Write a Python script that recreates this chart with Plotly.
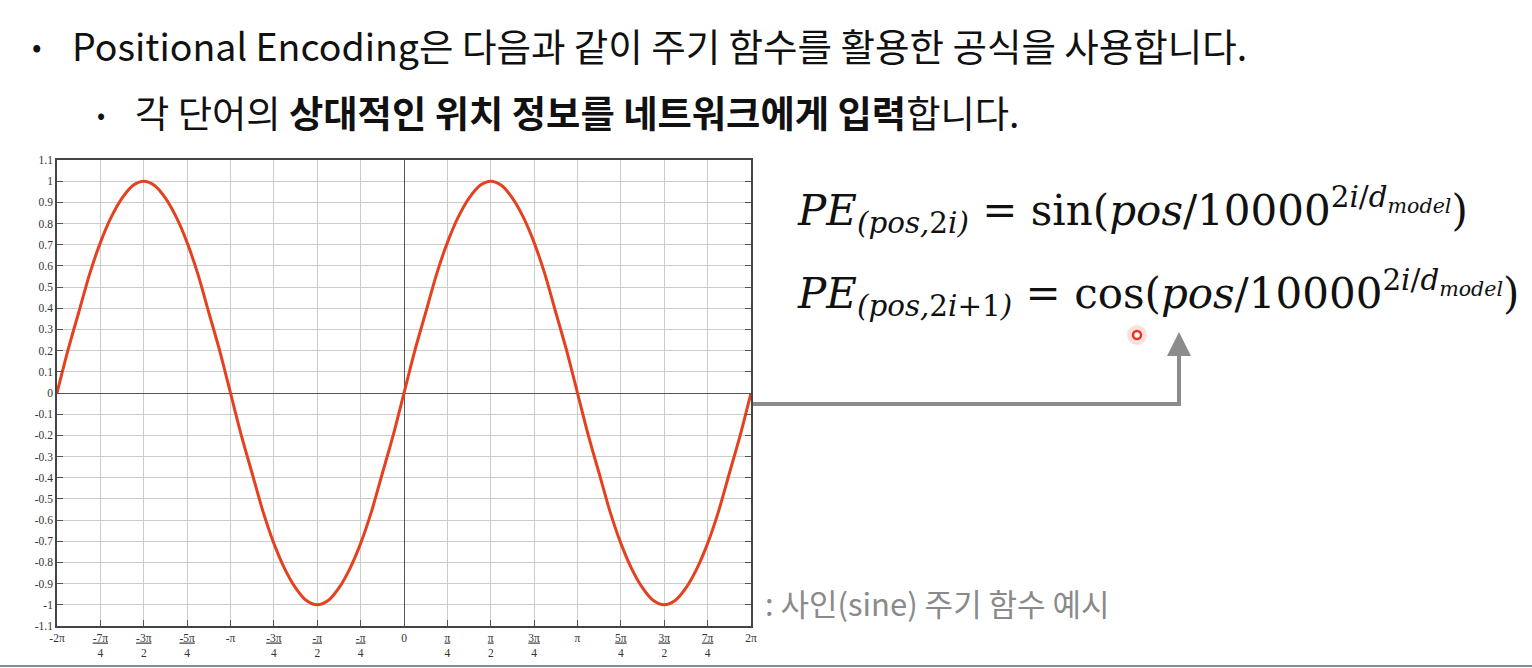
import plotly.graph_objects as go

# ---- data ----
# x positions in units of pi (step pi/16), y values of the plotted sine curve
x_pi = [-2.0, -1.9375, -1.875, -1.8125, -1.75, -1.6875, -1.625, -1.5625,
        -1.5, -1.4375, -1.375, -1.3125, -1.25, -1.1875, -1.125, -1.0625,
        -1.0, -0.9375, -0.875, -0.8125, -0.75, -0.6875, -0.625, -0.5625,
        -0.5, -0.4375, -0.375, -0.3125, -0.25, -0.1875, -0.125, -0.0625,
        0.0, 0.0625, 0.125, 0.1875, 0.25, 0.3125, 0.375, 0.4375,
        0.5, 0.5625, 0.625, 0.6875, 0.75, 0.8125, 0.875, 0.9375,
        1.0, 1.0625, 1.125, 1.1875, 1.25, 1.3125, 1.375, 1.4375,
        1.5, 1.5625, 1.625, 1.6875, 1.75, 1.8125, 1.875, 1.9375, 2.0]
y_vals = [0.0, 0.2, 0.38, 0.56, 0.71, 0.83, 0.92, 0.98,
          1.0, 0.98, 0.92, 0.83, 0.71, 0.56, 0.38, 0.2,
          0.0, -0.2, -0.38, -0.56, -0.71, -0.83, -0.92, -0.98,
          -1.0, -0.98, -0.92, -0.83, -0.71, -0.56, -0.38, -0.2,
          0.0, 0.2, 0.38, 0.56, 0.71, 0.83, 0.92, 0.98,
          1.0, 0.98, 0.92, 0.83, 0.71, 0.56, 0.38, 0.2,
          0.0, -0.2, -0.38, -0.56, -0.71, -0.83, -0.92, -0.98,
          -1.0, -0.98, -0.92, -0.83, -0.71, -0.56, -0.38, -0.2, 0.0]

x_tick_vals = [-2.0, -1.75, -1.5, -1.25, -1.0, -0.75, -0.5, -0.25, 0.0,
               0.25, 0.5, 0.75, 1.0, 1.25, 1.5, 1.75, 2.0]
x_tick_text = ["-2π", "<u>-7π</u><br>4", "<u>-3π</u><br>2", "<u>-5π</u><br>4", "-π",
               "<u>-3π</u><br>4", "<u>-π</u><br>2", "<u>-π</u><br>4", "0",
               "<u>π</u><br>4", "<u>π</u><br>2", "<u>3π</u><br>4", "π",
               "<u>5π</u><br>4", "<u>3π</u><br>2", "<u>7π</u><br>4", "2π"]
y_tick_vals = [1.1, 1.0, 0.9, 0.8, 0.7, 0.6, 0.5, 0.4, 0.3, 0.2, 0.1, 0.0,
               -0.1, -0.2, -0.3, -0.4, -0.5, -0.6, -0.7, -0.8, -0.9, -1.0, -1.1]
y_tick_text = ["1.1", "1", "0.9", "0.8", "0.7", "0.6", "0.5", "0.4", "0.3", "0.2", "0.1", "0",
               "-0.1", "-0.2", "-0.3", "-0.4", "-0.5", "-0.6", "-0.7", "-0.8", "-0.9", "-1", "-1.1"]

title_line1 = "Positional Encoding은 다음과 같이 주기 함수를 활용한 공식을 사용합니다."
title_line2 = "각 단어의 <b>상대적인 위치 정보를 네트워크에게 입력</b>합니다."
caption = ": 사인(sine) 주기 함수 예시"
eq1 = "<i>PE</i><sub><i>(pos,</i>2<i>i)</i></sub> = sin(<i>pos</i>/10000<sup>2<i>i</i>/<i>d</i><sub><i>model</i></sub></sup>)"
eq2 = "<i>PE</i><sub><i>(pos,</i>2<i>i</i>+1<i>)</i></sub> = cos(<i>pos</i>/10000<sup>2<i>i</i>/<i>d</i><sub><i>model</i></sub></sup>)"

W, H = 1532, 668
L, R, T, B = 57, 751, 160, 626


def px(x):
    return (x - L) / (R - L)


def py(y):
    return (B - y) / (B - T)


fig = go.Figure()
fig.add_trace(go.Scatter(
    x=x_pi, y=y_vals, mode="lines",
    line=dict(color="#e5401f", width=3, shape="spline", smoothing=0.8),
    hoverinfo="skip", showlegend=False,
))

axis_font = dict(family="Liberation Serif, Times New Roman, serif", size=11.5, color="#333333")
fig.update_xaxes(
    range=[-2, 2], tickvals=x_tick_vals, ticktext=x_tick_text, tickangle=0,
    showgrid=True, gridcolor="#cccccc", gridwidth=1,
    zeroline=True, zerolinecolor="#555555", zerolinewidth=1,
    showline=True, linecolor="#444444", linewidth=1.5, mirror=True,
    ticks="inside", ticklen=6, tickcolor="#555555", tickfont=axis_font,
    automargin=False,
)
fig.update_yaxes(
    range=[-1.1, 1.1], tickvals=y_tick_vals, ticktext=y_tick_text,
    showgrid=True, gridcolor="#cccccc", gridwidth=1,
    zeroline=True, zerolinecolor="#555555", zerolinewidth=1,
    showline=True, linecolor="#444444", linewidth=1.5, mirror="ticks",
    ticks="inside", ticklen=6, tickcolor="#555555", tickfont=axis_font,
    automargin=False,
)

kfont = "Noto Sans CJK KR, Noto Sans, sans-serif"
mfont = "DejaVu Serif, Liberation Serif, serif"
annotations = [
    dict(x=px(30), y=py(45), text="•", font=dict(family=kfont, size=28, color="#111111")),
    dict(x=px(70), y=py(44), text=title_line1, font=dict(family=kfont, size=37.5, color="#111111")),
    dict(x=px(95), y=py(113), text="•", font=dict(family=kfont, size=24, color="#111111")),
    dict(x=px(133), y=py(112), text=title_line2, font=dict(family=kfont, size=37.3, color="#111111")),
    dict(x=px(763), y=py(602), text=caption, font=dict(family=kfont, size=31, color="#8a8a8a")),
    dict(x=px(795), y=py(210), text=eq1, font=dict(family=mfont, size=42, color="#111111")),
    dict(x=px(795), y=py(293), text=eq2, font=dict(family=mfont, size=42, color="#111111")),
]
for a in annotations:
    a.update(xref="paper", yref="paper", xanchor="left", yanchor="middle", showarrow=False)

# arrowhead of the connector
annotations.append(dict(
    x=px(1179), y=py(332), xref="paper", yref="paper", ax=0, ay=40,
    text="", showarrow=True, arrowhead=2, arrowsize=1.2, arrowwidth=4, arrowcolor="#8c8c8c",
))

shapes = [
    # connector from chart to formula
    dict(type="path", xref="paper", yref="paper",
         path=f"M {px(753)},{py(404)} L {px(1179)},{py(404)} L {px(1179)},{py(345)}",
         line=dict(color="#8c8c8c", width=4)),
    # laser pointer dot
    dict(type="circle", xref="paper", yref="paper",
         x0=px(1127), x1=px(1147), y0=py(345), y1=py(325),
         fillcolor="rgba(255,80,60,0.18)", line=dict(width=0)),
    dict(type="circle", xref="paper", yref="paper",
         x0=px(1133), x1=px(1141), y0=py(339), y1=py(331),
         fillcolor="rgba(255,255,255,0.9)", line=dict(color="#e8351f", width=2.5)),
    # bottom rule
    dict(type="line", xref="paper", yref="paper",
         x0=px(0), x1=px(W), y0=py(666), y1=py(666),
         line=dict(color="#7f909c", width=2)),
]

fig.update_layout(
    width=W, height=H,
    margin=dict(l=L, r=W - R, t=T, b=H - B, pad=0),
    paper_bgcolor="white", plot_bgcolor="white",
    annotations=annotations, shapes=shapes,
    showlegend=False,
)

fig.write_html("out.html", config={"displayModeBar": False},
               post_script="document.body.style.margin='0';document.body.style.overflow='hidden';")
